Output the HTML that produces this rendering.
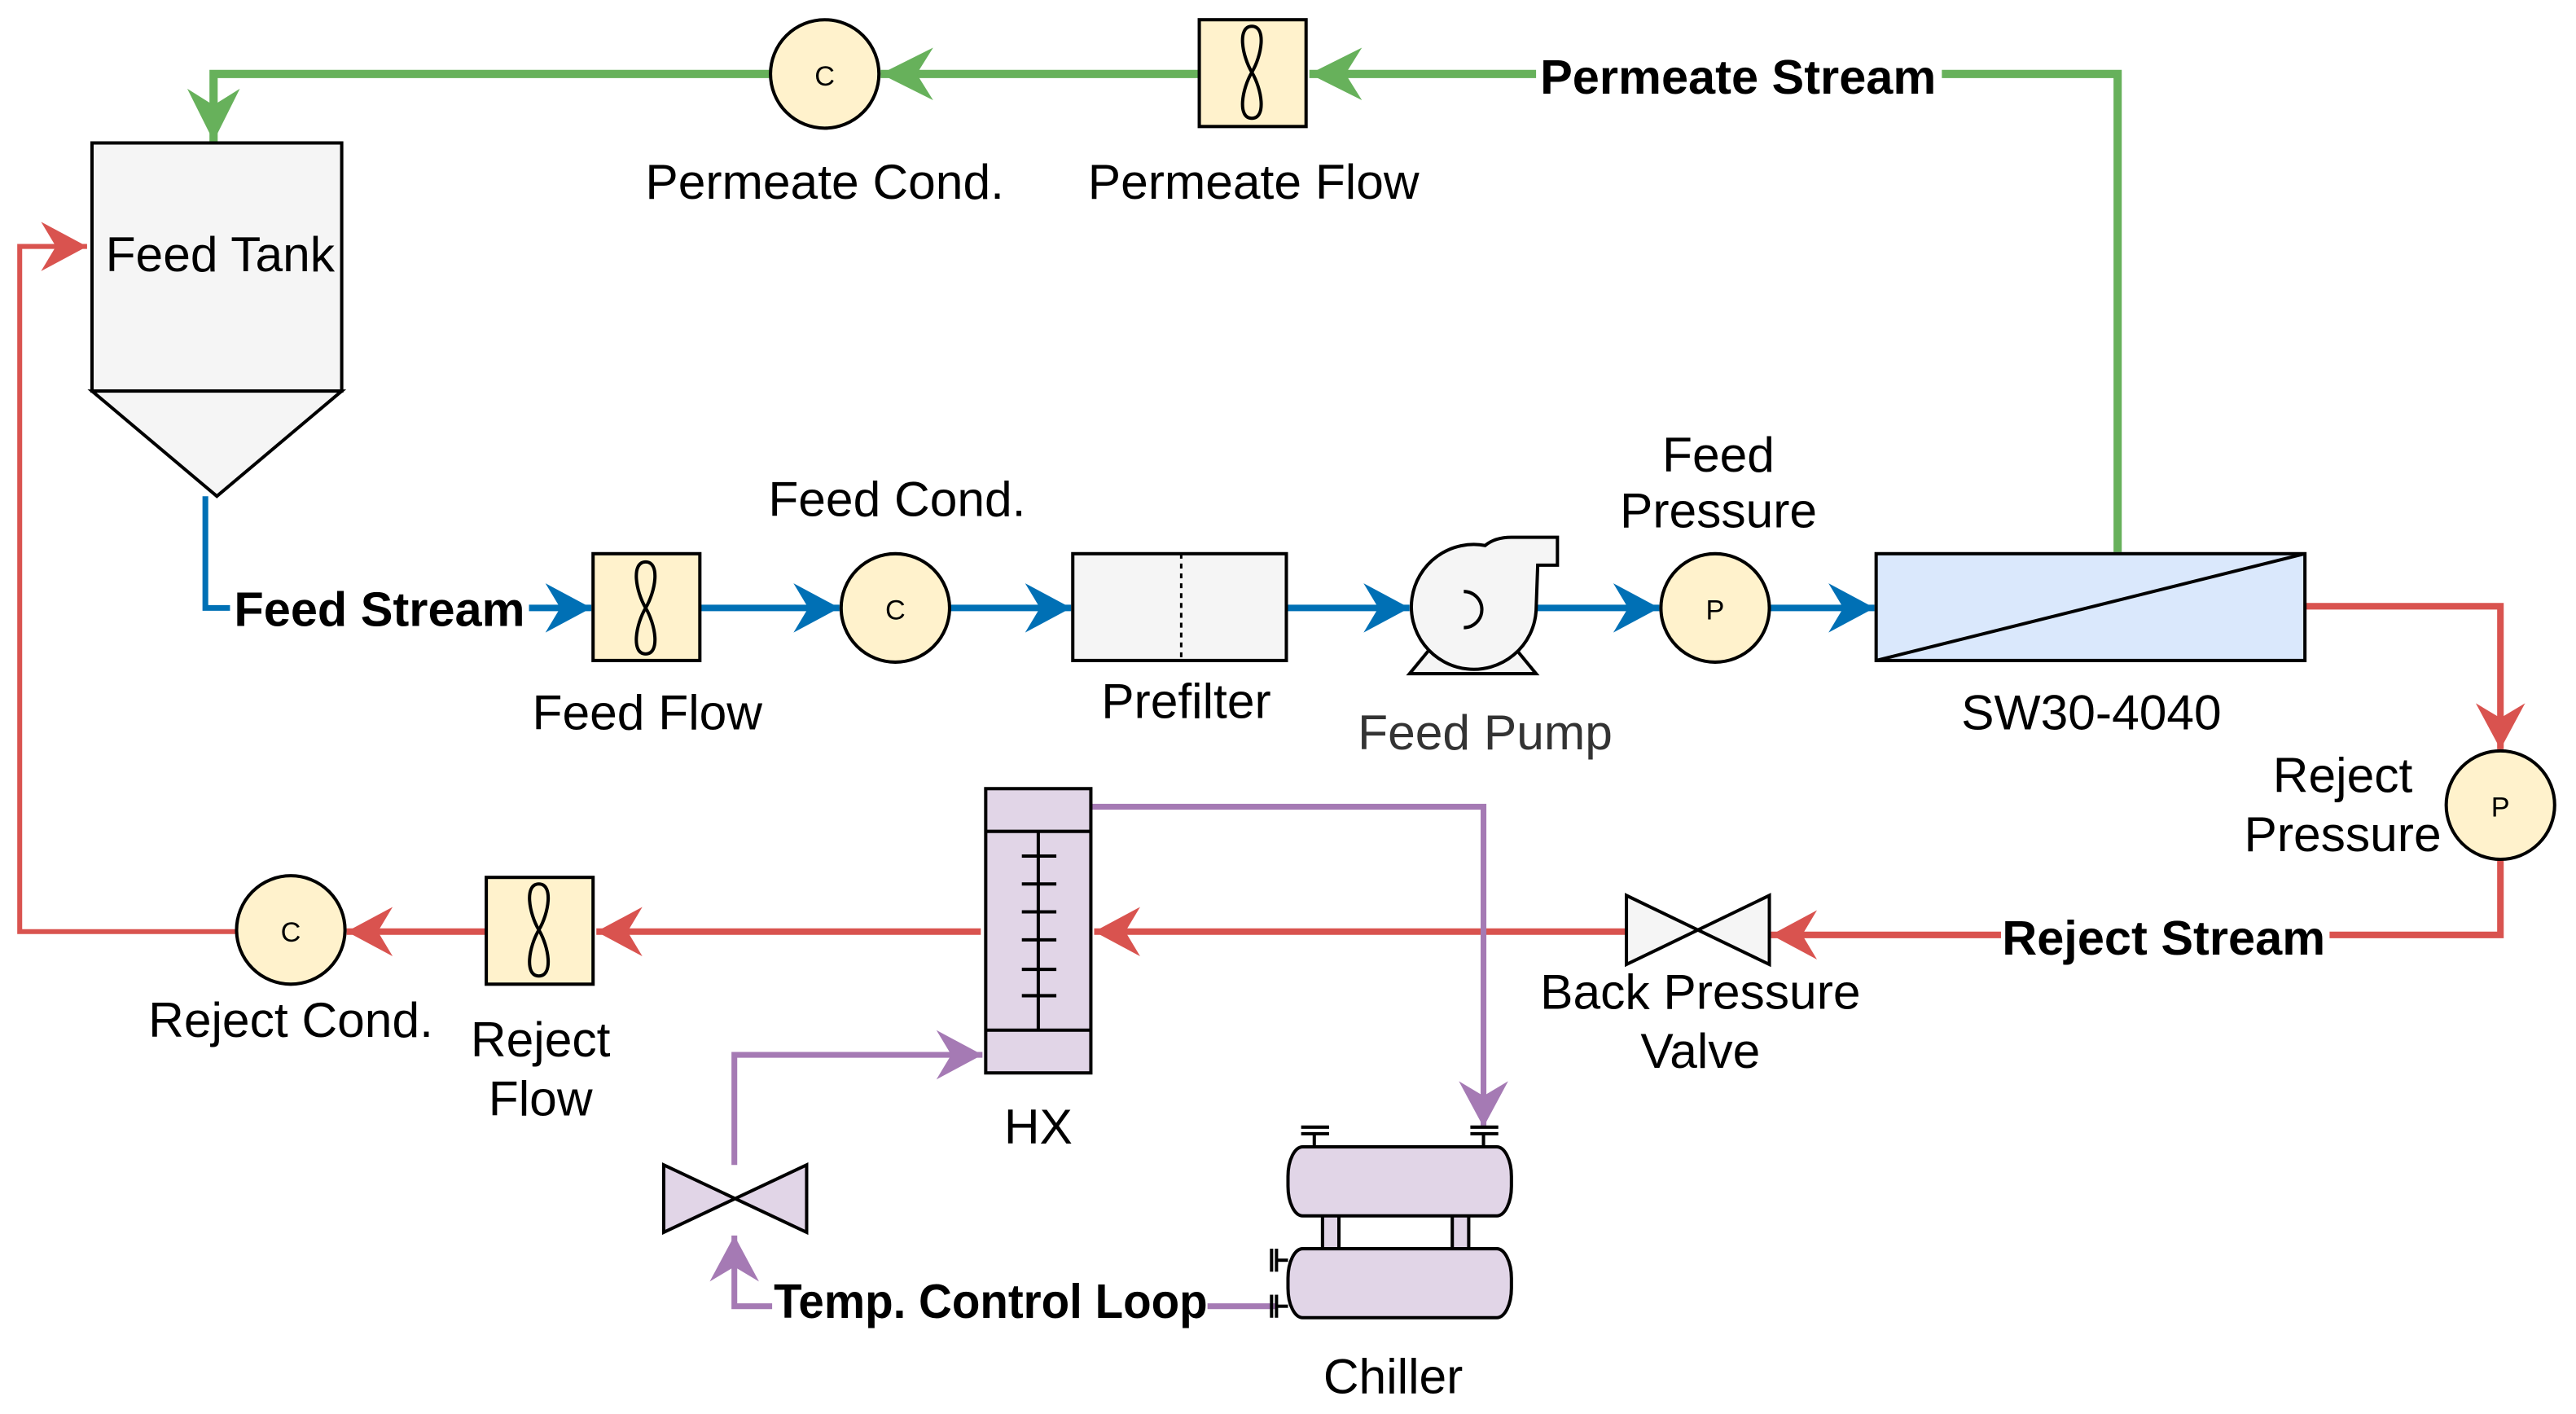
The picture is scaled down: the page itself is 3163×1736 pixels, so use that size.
<!DOCTYPE html>
<html><head><meta charset="utf-8"><style>
html,body{margin:0;padding:0;background:#fff;}
svg{display:block;}
text{font-family:"Liberation Sans",Arial,sans-serif;fill:#000;}
.l{font-size:30px;text-anchor:middle;}
.b{font-size:29.5px;font-weight:bold;text-anchor:middle;}
.s{font-size:17px;text-anchor:middle;}
</style></head><body>
<svg width="3163" height="1736" viewBox="0 0 1568 860.6" preserveAspectRatio="none" xmlns="http://www.w3.org/2000/svg">
<defs>
<marker id="ag" markerUnits="userSpaceOnUse" markerWidth="40" markerHeight="40" viewBox="-32 -20 40 40" refX="0" refY="0" orient="auto"><path d="M0,0 L-32,-16 L-22,0 L-32,16 Z" fill="#67b15b"/></marker>
<marker id="ab" markerUnits="userSpaceOnUse" markerWidth="40" markerHeight="40" viewBox="-32 -20 40 40" refX="0" refY="0" orient="auto"><path d="M0,0 L-28,-15 L-19,0 L-28,15 Z" fill="#0070b5"/></marker>
<marker id="ar" markerUnits="userSpaceOnUse" markerWidth="40" markerHeight="40" viewBox="-32 -20 40 40" refX="0" refY="0" orient="auto"><path d="M0,0 L-28,-15 L-19,0 L-28,15 Z" fill="#d9534f"/></marker>
<marker id="ap" markerUnits="userSpaceOnUse" markerWidth="40" markerHeight="40" viewBox="-32 -20 40 40" refX="0" refY="0" orient="auto"><path d="M0,0 L-28,-15 L-19,0 L-28,15 Z" fill="#a57ab4"/></marker>
</defs>
<g fill="none" stroke-linejoin="miter">
<polyline points="1289,336 1289,45 1182,45" stroke="#67b15b" stroke-width="5"/>
<line x1="935" y1="45" x2="797" y2="45" stroke="#67b15b" stroke-width="5" marker-end="url(#ag)"/>
<line x1="730" y1="45" x2="536" y2="45" stroke="#67b15b" stroke-width="5" marker-end="url(#ag)"/>
<polyline points="469,45 130,45 130,86" stroke="#67b15b" stroke-width="5" marker-end="url(#ag)"/>
<polyline points="144,567 12,567 12,150 53,150" stroke="#d9534f" stroke-width="3" marker-end="url(#ar)"/>
<polyline points="1403,369 1522,369 1522,456" stroke="#d9534f" stroke-width="4" marker-end="url(#ar)"/>
<polyline points="1522,523 1522,569 1418,569" stroke="#d9534f" stroke-width="4"/>
<line x1="1218" y1="569" x2="1078" y2="569" stroke="#d9534f" stroke-width="4" marker-end="url(#ar)"/>
<line x1="990" y1="567" x2="666" y2="567" stroke="#d9534f" stroke-width="4" marker-end="url(#ar)"/>
<line x1="597" y1="567" x2="363" y2="567" stroke="#d9534f" stroke-width="4" marker-end="url(#ar)"/>
<line x1="296" y1="567" x2="211" y2="567" stroke="#d9534f" stroke-width="4" marker-end="url(#ar)"/>
<polyline points="125,302 125,370 140,370" stroke="#0070b5" stroke-width="3.5"/>
<line x1="322" y1="370" x2="360" y2="370" stroke="#0070b5" stroke-width="4" marker-end="url(#ab)"/>
<line x1="426" y1="370" x2="511" y2="370" stroke="#0070b5" stroke-width="4" marker-end="url(#ab)"/>
<line x1="578" y1="370" x2="652" y2="370" stroke="#0070b5" stroke-width="4" marker-end="url(#ab)"/>
<line x1="783" y1="370" x2="858" y2="370" stroke="#0070b5" stroke-width="4" marker-end="url(#ab)"/>
<line x1="935" y1="370" x2="1010" y2="370" stroke="#0070b5" stroke-width="4" marker-end="url(#ab)"/>
<line x1="1077" y1="370" x2="1141" y2="370" stroke="#0070b5" stroke-width="4" marker-end="url(#ab)"/>
<polyline points="664,491 903,491 903,686" stroke="#a57ab4" stroke-width="3.5" marker-end="url(#ap)"/>
<polyline points="447,709 447,642 598,642" stroke="#a57ab4" stroke-width="3.5" marker-end="url(#ap)"/>
<line x1="777" y1="795" x2="735" y2="795" stroke="#a57ab4" stroke-width="3.5"/>
<polyline points="470,795 447,795 447,752" stroke="#a57ab4" stroke-width="3.5" marker-end="url(#ap)"/>
</g>

<rect x="56" y="87" width="152" height="151" fill="#f5f5f5" stroke="#000" stroke-width="2"/>
<polygon points="56,238 208,238 132,302" fill="#f5f5f5" stroke="#000" stroke-width="2"/>
<text class="l" x="134" y="165">Feed Tank</text>

<g stroke="#000" stroke-width="2" fill="#fff2cc">
<circle cx="502" cy="45" r="33"/>
<circle cx="545" cy="370" r="33"/>
<circle cx="1044" cy="370" r="33"/>
<circle cx="1522" cy="490" r="33"/>
<circle cx="177" cy="566" r="33"/>
<rect x="730" y="12" width="65" height="65"/>
<rect x="361" y="337" width="65" height="65"/>
<rect x="296" y="534" width="65" height="65"/>
</g>
<g fill="none" stroke="#000" stroke-width="2">
<path transform="translate(762,44)" d="M0,-28 C9,-28 6,-10 0,0 C-6,10 -9,28 0,28 C9,28 6,10 0,0 C-6,-10 -9,-28 0,-28Z"/>
<path transform="translate(393,370)" d="M0,-28 C9,-28 6,-10 0,0 C-6,10 -9,28 0,28 C9,28 6,10 0,0 C-6,-10 -9,-28 0,-28Z"/>
<path transform="translate(328,566)" d="M0,-28 C9,-28 6,-10 0,0 C-6,10 -9,28 0,28 C9,28 6,10 0,0 C-6,-10 -9,-28 0,-28Z"/>
</g>
<text class="s" x="502" y="52">C</text>
<text class="s" x="545" y="377">C</text>
<text class="s" x="1044" y="377">P</text>
<text class="s" x="1522" y="497">P</text>
<text class="s" x="177" y="573">C</text>

<rect x="653" y="337" width="130" height="65" fill="#f5f5f5" stroke="#000" stroke-width="2"/>
<line x1="719" y1="337" x2="719" y2="402" stroke="#000" stroke-width="1.5" stroke-dasharray="3,3"/>

<polygon points="872,393 858,410 935,410 921,393" fill="#f5f5f5" stroke="#000" stroke-width="2"/>
<path d="M935,372 A38,38 0 1 1 904,332 Q910,327 920,327 L948,327 L948,344 L936,344 Z" fill="#f5f5f5" stroke="#000" stroke-width="2"/>
<path d="M891,360 A11,11 0 1 1 891,382" fill="none" stroke="#000" stroke-width="2"/>

<rect x="1142" y="337" width="261" height="65" fill="#dae8fc" stroke="#000" stroke-width="2"/>
<line x1="1142" y1="402" x2="1403" y2="337" stroke="#000" stroke-width="2"/>

<polygon points="990,545 1077,587 1077,545 990,587" fill="#f5f5f5" stroke="#000" stroke-width="2"/>
<polygon points="404,709 491,750 491,709 404,750" fill="#e1d5e7" stroke="#000" stroke-width="2"/>

<g stroke="#000" stroke-width="2">
<rect x="600" y="480" width="64" height="173" fill="#e1d5e7"/>
<line x1="600" y1="506" x2="664" y2="506"/>
<line x1="600" y1="627" x2="664" y2="627"/>
<line x1="632" y1="506" x2="632" y2="627"/>
<line x1="622" y1="521" x2="643" y2="521"/>
<line x1="622" y1="538" x2="643" y2="538"/>
<line x1="622" y1="555" x2="643" y2="555"/>
<line x1="622" y1="572" x2="643" y2="572"/>
<line x1="622" y1="590" x2="643" y2="590"/>
<line x1="622" y1="606" x2="643" y2="606"/>
</g>

<g stroke="#000" stroke-width="2" fill="#e1d5e7">
<rect x="805" y="738" width="10" height="24"/>
<rect x="884" y="738" width="10" height="24"/>
<rect x="784" y="698" width="136" height="42" rx="9" ry="18"/>
<rect x="784" y="760" width="136" height="42" rx="9" ry="18"/>
<line x1="800" y1="698" x2="800" y2="690"/>
<line x1="792" y1="686" x2="809" y2="686"/>
<line x1="792" y1="690" x2="809" y2="690"/>
<line x1="903" y1="698" x2="903" y2="690"/>
<line x1="895" y1="686" x2="912" y2="686"/>
<line x1="895" y1="690" x2="912" y2="690"/>
<line x1="784" y1="767" x2="777" y2="767"/>
<line x1="777" y1="760" x2="777" y2="774"/>
<line x1="774" y1="760" x2="774" y2="774"/>
<line x1="784" y1="795" x2="777" y2="795"/>
<line x1="777" y1="788" x2="777" y2="802"/>
<line x1="774" y1="788" x2="774" y2="802"/>
</g>

<text class="b" x="1058" y="57">Permeate Stream</text>
<text class="l" x="502" y="121">Permeate Cond.</text>
<text class="l" x="763" y="121">Permeate Flow</text>
<text class="b" x="231" y="381">Feed Stream</text>
<text class="l" x="394" y="444">Feed Flow</text>
<text class="l" x="546" y="314">Feed Cond.</text>
<text class="l" x="722" y="437">Prefilter</text>
<text class="l" x="904" y="456" style="fill:#333">Feed Pump</text>
<text class="l" x="1046" y="287">Feed</text>
<text class="l" x="1046" y="321">Pressure</text>
<text class="l" x="1273" y="444">SW30-4040</text>
<text class="l" x="1426" y="482">Reject</text>
<text class="l" x="1426" y="518">Pressure</text>
<text class="b" x="1317" y="581">Reject Stream</text>
<text class="l" x="1035" y="614">Back Pressure</text>
<text class="l" x="1035" y="650">Valve</text>
<text class="l" x="177" y="631">Reject Cond.</text>
<text class="l" x="329" y="643">Reject</text>
<text class="l" x="329" y="679">Flow</text>
<text class="l" x="632" y="696">HX</text>
<text class="b" x="603" y="802" textLength="264" lengthAdjust="spacingAndGlyphs">Temp. Control Loop</text>
<text class="l" x="848" y="848">Chiller</text>
</svg>
</body></html>
